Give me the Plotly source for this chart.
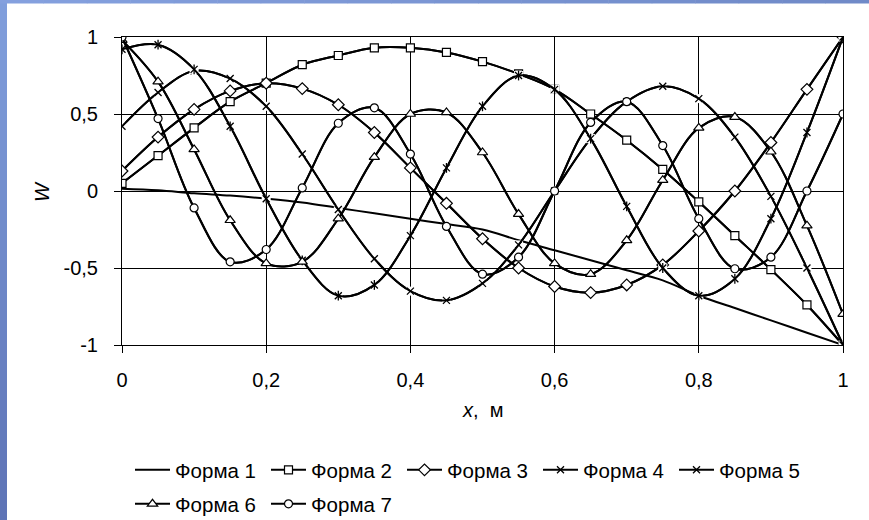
import plotly.graph_objects as go

# ---------------- data ----------------
x_vals = [0, 0.05, 0.1, 0.15, 0.2, 0.25, 0.3, 0.35, 0.4, 0.45, 0.5,
          0.55, 0.6, 0.65, 0.7, 0.75, 0.8, 0.85, 0.9, 0.95, 1.0]

forma1 = [0.015, 0.005, -0.015, -0.03, -0.05, -0.075, -0.11, -0.145, -0.18, -0.215, -0.25,
          -0.32, -0.385, -0.45, -0.515, -0.58, -0.68, -0.76, -0.84, -0.92, -1.0]
forma2 = [0.05, 0.23, 0.41, 0.58, 0.70, 0.82, 0.88, 0.93, 0.93, 0.90, 0.84,
          0.76, 0.66, 0.50, 0.33, 0.14, -0.07, -0.29, -0.51, -0.74, -1.0]
forma3 = [0.13, 0.35, 0.53, 0.65, 0.70, 0.665, 0.56, 0.38, 0.15, -0.08, -0.31,
          -0.50, -0.62, -0.66, -0.61, -0.48, -0.26, 0.0, 0.315, 0.66, 1.0]
forma4 = [0.42, 0.64, 0.78, 0.73, 0.55, 0.24, -0.12, -0.44, -0.65, -0.71, -0.60,
          -0.35, 0.0, 0.34, 0.58, 0.68, 0.60, 0.35, -0.035, -0.50, -1.0]
forma5 = [0.92, 0.95, 0.79, 0.42, -0.05, -0.45, -0.68, -0.61, -0.29, 0.15, 0.55,
          0.75, 0.66, 0.34, -0.10, -0.50, -0.68, -0.57, -0.18, 0.38, 1.0]
forma6 = [0.98, 0.71, 0.27, -0.19, -0.47, -0.46, -0.18, 0.22, 0.50, 0.51, 0.25,
          -0.15, -0.47, -0.54, -0.32, 0.07, 0.41, 0.48, 0.255, -0.225, -0.80]
forma7 = [1.0, 0.47, -0.11, -0.46, -0.38, 0.02, 0.44, 0.54, 0.24, -0.23, -0.54,
          -0.43, 0.0, 0.445, 0.58, 0.295, -0.18, -0.505, -0.43, 0.0, 0.50]

series_names = ["Форма 1", "Форма 2", "Форма 3", "Форма 4", "Форма 5", "Форма 6", "Форма 7"]

x_tickvals = [0, 0.2, 0.4, 0.6, 0.8, 1]
x_ticktext = ["0", "0,2", "0,4", "0,6", "0,8", "1"]
y_tickvals = [-1, -0.5, 0, 0.5, 1]
y_ticktext = ["-1", "-0,5", "0", "0,5", "1"]

# ---------------- layout geometry ----------------
W, H = 869, 520
L, R, T, B = 122, 26, 37, 175
PW, PH = W - L - R, H - T - B


def px_x(px):
    return (px - L) / PW


def px_y(py):
    return (H - B - py) / PH


FONT = "Liberation Sans, Arial, sans-serif"
LW = 2

fig = go.Figure()

mk = dict(color="black", width=1.2)
styles = [
    None,
    dict(symbol="square", size=8, color="white", line=mk),
    dict(symbol="diamond", size=9, color="white", line=mk),
    dict(symbol="x-thin-open", size=7, color="black", line=dict(color="black", width=1.3)),
    dict(symbol="x-thin-open", size=7, color="black", line=dict(color="black", width=1.3)),
    dict(symbol="triangle-up", size=9, color="white", line=mk),
    dict(symbol="circle", size=8, color="white", line=mk),
]
data = [forma1, forma2, forma3, forma4, forma5, forma6, forma7]
legend_of = ["legend"] * 5 + ["legend2"] * 2

for name, yv, st, lg in zip(series_names, data, styles, legend_of):
    if st is None:
        fig.add_trace(go.Scatter(
            x=x_vals, y=yv, name=name, mode="lines", legend=lg,
            line=dict(color="black", width=LW, shape="spline")))
        continue
    fig.add_trace(go.Scatter(
        x=x_vals, y=yv, mode="lines", showlegend=False, hoverinfo="skip",
        line=dict(color="black", width=LW, shape="spline")))
    if name in ("Форма 4", "Форма 5"):
        # white background behind the cross markers
        fig.add_trace(go.Scatter(
            x=x_vals, y=yv, mode="markers", showlegend=False, hoverinfo="skip",
            marker=dict(symbol="square", size=9, color="white", line=dict(width=0))))
    fig.add_trace(go.Scatter(
        x=x_vals, y=yv, name=name, mode="lines+markers", legend=lg,
        line=dict(color="black", width=LW, shape="spline"),
        marker=st))
    if name == "Форма 5":
        fig.add_trace(go.Scatter(
            x=x_vals, y=yv, mode="markers", showlegend=False, hoverinfo="skip",
            marker=dict(symbol="line-ns-open", size=7, color="black",
                        line=dict(color="black", width=1.3))))

# ---------------- background band (blue frame, top & left) ----------------
shapes = []


def lerp(c1, c2, t):
    return "#%02x%02x%02x" % tuple(int(round(a + (b - a) * t)) for a, b in zip(c1, c2))


top_c, bot_c = (128, 158, 220), (94, 116, 182)
n = 26
for k in range(n):
    y0 = H * k / n
    y1 = H * (k + 1) / n + 0.5
    shapes.append(dict(type="rect", xref="paper", yref="paper",
                       x0=px_x(-1), x1=px_x(7), y0=px_y(y1), y1=px_y(y0),
                       fillcolor=lerp(top_c, bot_c, k / (n - 1)), line=dict(width=0),
                       layer="below"))
lc, rc = (132, 160, 222), (112, 138, 200)
m = 20
for k in range(m):
    x0 = W * k / m
    x1 = W * (k + 1) / m + 0.5
    shapes.append(dict(type="rect", xref="paper", yref="paper",
                       x0=px_x(x0), x1=px_x(x1), y0=px_y(3.5), y1=px_y(-1),
                       fillcolor=lerp(lc, rc, k / (m - 1)), line=dict(width=0),
                       layer="below"))

annotations = [
    dict(text="<i>W</i>", xref="paper", yref="paper", x=px_x(42), y=px_y(192),
         showarrow=False, textangle=-90, font=dict(family=FONT, size=20, color="black"),
         xanchor="center", yanchor="middle"),
    dict(text="<i>x</i>,  м", xref="paper", yref="paper", x=px_x(482), y=px_y(410),
         showarrow=False, font=dict(family=FONT, size=20, color="black"),
         xanchor="center", yanchor="middle"),
]

axis_common = dict(
    showgrid=True, gridcolor="black", gridwidth=1,
    showline=True, linecolor="black", linewidth=1,
    zeroline=False, ticks="outside", ticklen=7, tickcolor="black", tickwidth=1,
    tickfont=dict(family=FONT, size=20, color="black"),
)

leg_common = dict(orientation="h", xanchor="left", yanchor="top",
                  font=dict(family=FONT, size=20.5, color="black"),
                  bgcolor="rgba(0,0,0,0)", itemwidth=35, tracegroupgap=0,
                  entrywidth=86, entrywidthmode="pixels")

fig.update_layout(
    width=W, height=H,
    margin=dict(l=L, r=R, t=T, b=B, autoexpand=False),
    paper_bgcolor="white", plot_bgcolor="white",
    font=dict(family=FONT, size=20, color="black"),
    xaxis=dict(range=[0, 1], tickvals=x_tickvals, ticktext=x_ticktext,
               ticklabelstandoff=10, mirror=True, **axis_common),
    yaxis=dict(range=[-1, 1], tickvals=y_tickvals, ticktext=y_ticktext,
               ticklabelstandoff=12, mirror=True, **axis_common),
    shapes=shapes, annotations=annotations,
    showlegend=True,
    legend=dict(x=px_x(130), y=px_y(450), **leg_common),
    legend2=dict(x=px_x(130), y=px_y(484), **leg_common),
)

fig.write_html("out.html", config={"displayModeBar": False},
               post_script="document.body.style.margin='0';")
